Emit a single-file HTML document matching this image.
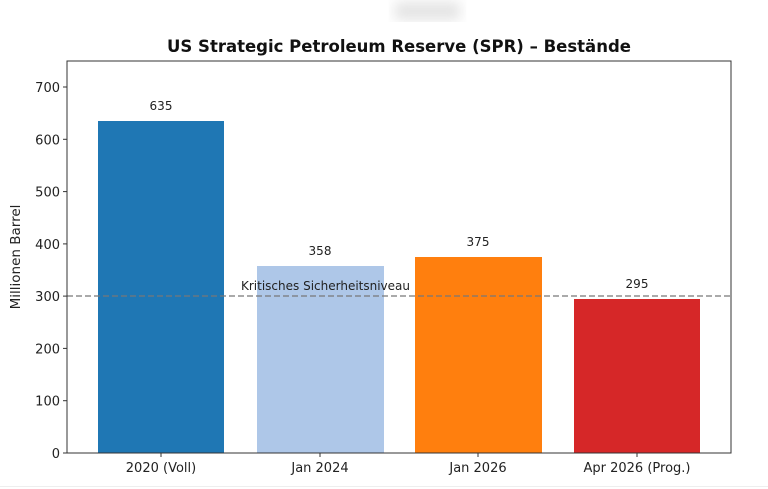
<!DOCTYPE html>
<html><head><meta charset="utf-8"><style>
html,body{margin:0;padding:0;background:#fff;}
svg{display:block;font-family:"DejaVu Sans","Liberation Sans",sans-serif;}
</style></head><body>
<svg width="768" height="489" viewBox="0 0 768 489" xmlns="http://www.w3.org/2000/svg">
<defs><filter id="b"><feGaussianBlur stdDeviation="6"/></filter></defs>
<rect width="768" height="489" fill="#fff"/>
<rect x="395" y="2" width="65" height="18" fill="#e4e4e4" filter="url(#b)"/>
<line x1="0" y1="486.5" x2="768" y2="486.5" stroke="#eee"/>
<text x="399" y="52" text-anchor="middle" font-size="16.5" font-weight="bold" fill="#111">US Strategic Petroleum Reserve (SPR) – Bestände</text>
<!-- bars -->
<rect x="98" y="121" width="126" height="332" fill="#1f77b4"/>
<rect x="257" y="266" width="127" height="187" fill="#aec7e8"/>
<rect x="415" y="257" width="127" height="196" fill="#ff7f0e"/>
<rect x="574" y="299" width="126" height="154" fill="#d62728"/>
<g font-size="12" fill="#222" text-anchor="middle">
<text x="161" y="110">635</text>
<text x="320" y="255">358</text>
<text x="478" y="246">375</text>
<text x="637" y="288">295</text>
</g>
<line x1="67" y1="296" x2="731" y2="296" stroke="#777" stroke-width="1.3" stroke-dasharray="6,3"/>
<text x="241" y="290" font-size="12" fill="#222">Kritisches Sicherheitsniveau</text>
<!-- axes -->
<rect x="67" y="61" width="664" height="392" fill="none" stroke="#333" stroke-width="1"/>
<g stroke="#333">
<line x1="63" y1="453" x2="67" y2="453"/>
<line x1="63" y1="400.7" x2="67" y2="400.7"/>
<line x1="63" y1="348.4" x2="67" y2="348.4"/>
<line x1="63" y1="296.1" x2="67" y2="296.1"/>
<line x1="63" y1="243.9" x2="67" y2="243.9"/>
<line x1="63" y1="191.6" x2="67" y2="191.6"/>
<line x1="63" y1="139.3" x2="67" y2="139.3"/>
<line x1="63" y1="87" x2="67" y2="87"/>
<line x1="161" y1="453" x2="161" y2="457"/>
<line x1="320" y1="453" x2="320" y2="457"/>
<line x1="478" y1="453" x2="478" y2="457"/>
<line x1="637" y1="453" x2="637" y2="457"/>
</g>
<g font-size="13" fill="#222" text-anchor="end">
<text x="60" y="458">0</text>
<text x="60" y="405.7">100</text>
<text x="60" y="353.4">200</text>
<text x="60" y="301.1">300</text>
<text x="60" y="248.9">400</text>
<text x="60" y="196.6">500</text>
<text x="60" y="144.3">600</text>
<text x="60" y="92">700</text>
</g>
<g font-size="13" fill="#222" text-anchor="middle">
<text x="161" y="472">2020 (Voll)</text>
<text x="320" y="472">Jan 2024</text>
<text x="478" y="472">Jan 2026</text>
<text x="637" y="472">Apr 2026 (Prog.)</text>
</g>
<text transform="translate(20,257) rotate(-90)" font-size="13.5" fill="#222" text-anchor="middle">Millionen Barrel</text>
</svg>
</body></html>
